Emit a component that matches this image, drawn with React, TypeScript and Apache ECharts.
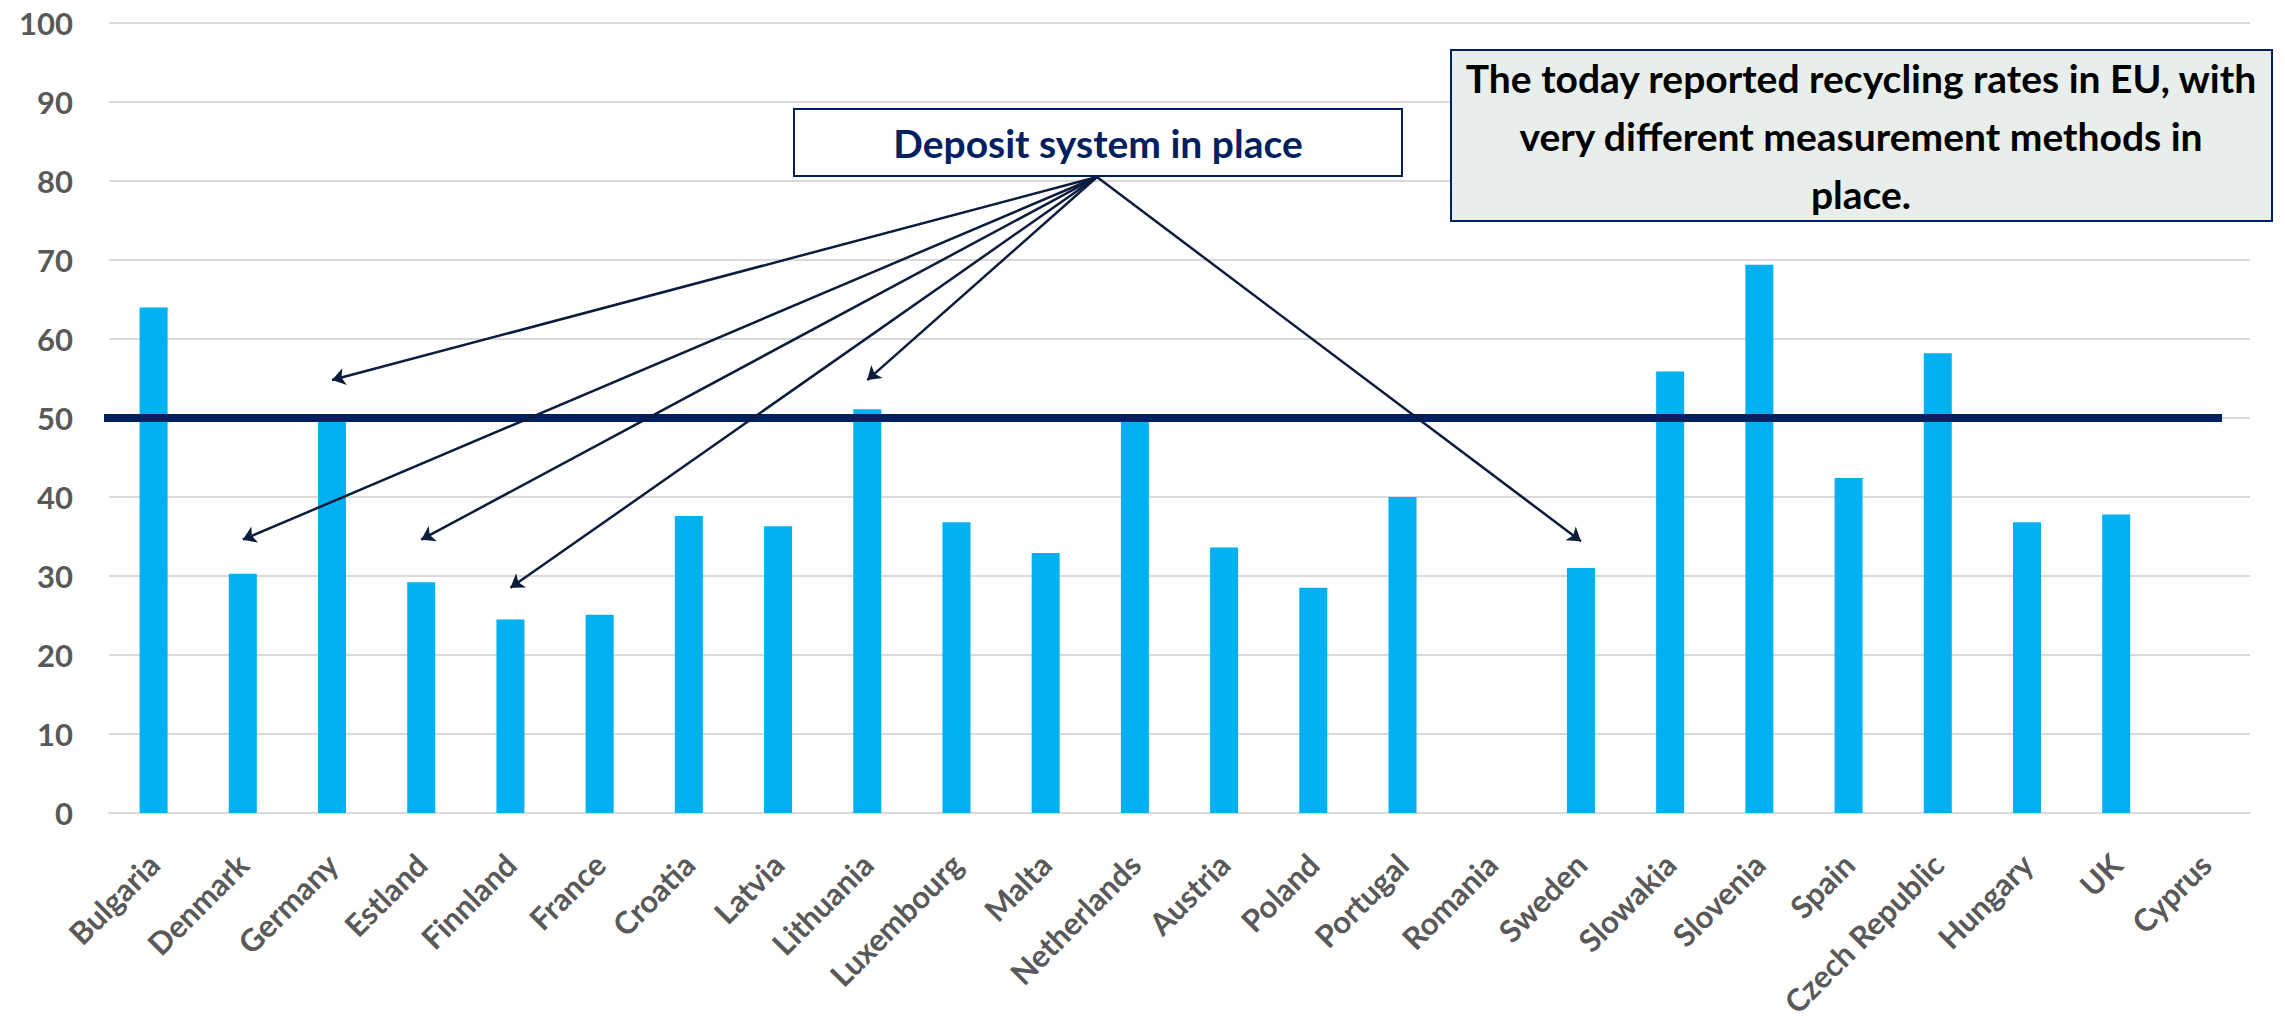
import React, { useEffect, useRef } from "react";
import * as echarts from "echarts";

const categories = [
  "Bulgaria", "Denmark", "Germany", "Estland", "Finnland", "France", "Croatia", "Latvia",
  "Lithuania", "Luxembourg", "Malta", "Netherlands", "Austria", "Poland", "Portugal", "Romania",
  "Sweden", "Slowakia", "Slovenia", "Spain", "Czech Republic", "Hungary", "UK", "Cyprus",
];
const recyclingRates: (number | null)[] = [
  64.0, 30.3, 50.0, 29.2, 24.5, 25.1, 37.6, 36.3,
  51.1, 36.8, 32.9, 50.0, 33.6, 28.5, 40.0, null,
  31.0, 55.9, 69.4, 42.4, 58.2, 36.8, 37.8, null,
];
const yMin = 0;
const yMax = 100;
const yInterval = 10;
const targetRate = 50;

const depositLabel = "Deposit system in place";
const depositCountries = ["Germany", "Denmark", "Estland", "Finnland", "Lithuania", "Sweden"];
const depositArrowTipValues = [54.8, 34.6, 34.6, 28.5, 54.8, 34.4];

const noteLines = [
  "The today reported recycling rates in EU, with",
  "very different measurement methods in",
  "place.",
];

const FONT = "Lato, 'Noto Sans', sans-serif";
const NAVY = "#002060";
const ARROW = "#0b1c3d";

export default function App() {
  const ref = useRef<HTMLDivElement>(null);

  useEffect(() => {
    if (!ref.current) return;
    const chart = echarts.init(ref.current, undefined, { renderer: "svg" });

    const apex = { x: 1097, y: 177 };

    chart.setOption({
      animation: false,
      backgroundColor: "#ffffff",
      grid: {
        left: 109,
        right: 35,
        top: 23,
        bottom: 209,
        containLabel: false,
        outerBoundsMode: "none",
      },
      xAxis: {
        type: "category",
        data: categories,
        axisLine: { show: true, lineStyle: { color: "#d9d9d9", width: 2 } },
        axisTick: { show: false },
        axisLabel: {
          interval: 0,
          rotate: 45,
          margin: 46,
          color: "#595959",
          fontFamily: FONT,
          fontWeight: "bold",
          fontSize: 31,
        },
        splitLine: { show: false },
      },
      yAxis: {
        type: "value",
        min: yMin,
        max: yMax,
        interval: yInterval,
        axisLine: { show: false },
        axisTick: { show: false },
        axisLabel: {
          margin: 36,
          color: "#595959",
          fontFamily: FONT,
          fontWeight: "bold",
          fontSize: 31,
        },
        splitLine: { show: true, lineStyle: { color: "#d9d9d9", width: 2 } },
      },
      series: [
        {
          type: "bar",
          data: recyclingRates,
          barWidth: 28,
          itemStyle: { color: "#00b0f0" },
          silent: true,
          markLine: {
            silent: true,
            symbol: ["none", "arrow"],
            symbolSize: 13,
            label: { show: false },
            emphasis: { disabled: true },
            lineStyle: { color: ARROW, width: 2.5, type: "solid" },
            data: depositCountries.map((c, i) => [
              { x: apex.x, y: apex.y },
              { coord: [c, depositArrowTipValues[i]] },
            ]),
          },
        },
      ],
    });

    const y50 = chart.convertToPixel({ yAxisIndex: 0 }, targetRate) as number;

    chart.setOption({
      graphic: [
        {
          type: "line",
          z: 4,
          shape: { x1: 104, y1: y50, x2: 2222, y2: y50 },
          style: { stroke: NAVY, lineWidth: 8 },
          silent: true,
        },
        {
          type: "rect",
          z: 10,
          shape: { x: 794, y: 109, width: 608, height: 67 },
          style: { fill: "#ffffff", stroke: NAVY, lineWidth: 2 },
          silent: true,
        },
        {
          type: "text",
          z: 11,
          x: 1098,
          y: 143,
          style: {
            text: depositLabel,
            align: "center",
            verticalAlign: "middle",
            fill: NAVY,
            fontFamily: FONT,
            fontWeight: "bold",
            fontSize: 39,
          },
          silent: true,
        },
        {
          type: "rect",
          z: 10,
          shape: { x: 1451, y: 50, width: 821, height: 171 },
          style: { fill: "#e8eeeb", stroke: NAVY, lineWidth: 2 },
          silent: true,
        },
        {
          type: "text",
          z: 11,
          x: 1861,
          y: 136,
          style: {
            text: noteLines.join("\n"),
            align: "center",
            verticalAlign: "middle",
            fill: "#000000",
            fontFamily: FONT,
            fontWeight: "bold",
            fontSize: 39,
            lineHeight: 58,
          },
          silent: true,
        },
      ],
    });

    return () => chart.dispose();
  }, []);

  return (
    <div
      ref={ref}
      style={{ position: "fixed", left: 0, top: 0, width: 2285, height: 1022 }}
    />
  );
}
